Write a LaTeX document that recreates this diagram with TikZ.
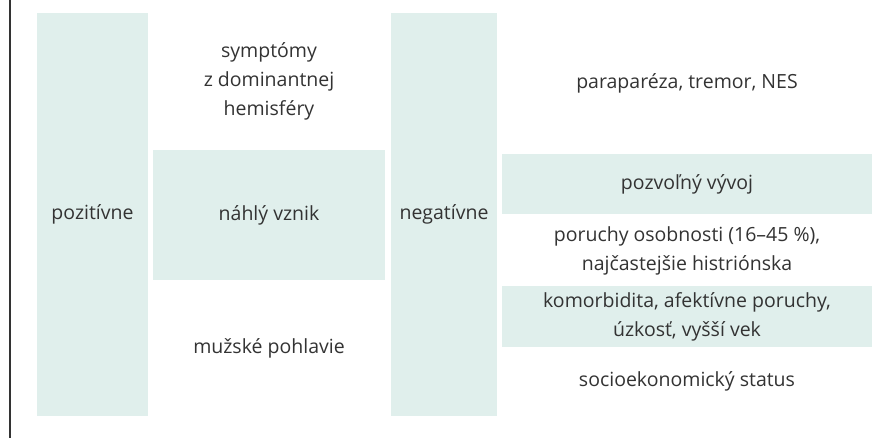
\documentclass[tikz,border=0pt]{standalone}
\usepackage{fontspec}
\setmainfont{Open Sans}
\definecolor{mint}{HTML}{E0EFEC}
\definecolor{txtgray}{HTML}{333333}

\begin{document}
\begin{tikzpicture}[x=1bp, y=-1bp,
  cell/.style={rectangle, inner sep=0pt, text=txtgray, align=center, font=\fontsize{19.5bp}{29bp}\selectfont},
  shaded/.style={cell, fill=mint}]

\useasboundingbox (0,0) rectangle (885,438);

%Frame
\coordinate (ftop) at (10,0);
\coordinate (fbot) at (10,438);
\draw[txtgray, line width=1.2bp] (ftop) -- (fbot);

%Columns
\node[shaded, minimum width=111bp, minimum height=403bp] (poz)  at (92.5,214.5) {pozitívne};
\node[cell]                                              (symp) at (269,81.5)   {symptómy\\z dominantnej\\hemisféry};
\node[shaded, minimum width=232bp, minimum height=130bp] (nahl) at (269,215)    {náhlý vznik};
\node[cell]                                              (muz)  at (269,348)    {mužské pohlavie};
\node[shaded, minimum width=106bp, minimum height=403bp] (neg)  at (444,214.5)  {negatívne};

\node[cell]                                              (para) at (687,83.5)   {paraparéza, tremor, NES};
\node[shaded, minimum width=370bp, minimum height=60bp]  (pozv) at (687,184)    {pozvoľný vývoj};
\node[cell]                                              (por)  at (687,251)    {poruchy osobnosti (16–45 \%),\\najčastejšie histriónska};
\node[shaded, minimum width=370bp, minimum height=61bp]  (kom)  at (687,316.5)  {komorbidita, afektívne poruchy,\\úzkosť, vyšší vek};
\node[cell]                                              (soc)  at (687,381.5)  {socioekonomický status};

\end{tikzpicture}
\end{document}
